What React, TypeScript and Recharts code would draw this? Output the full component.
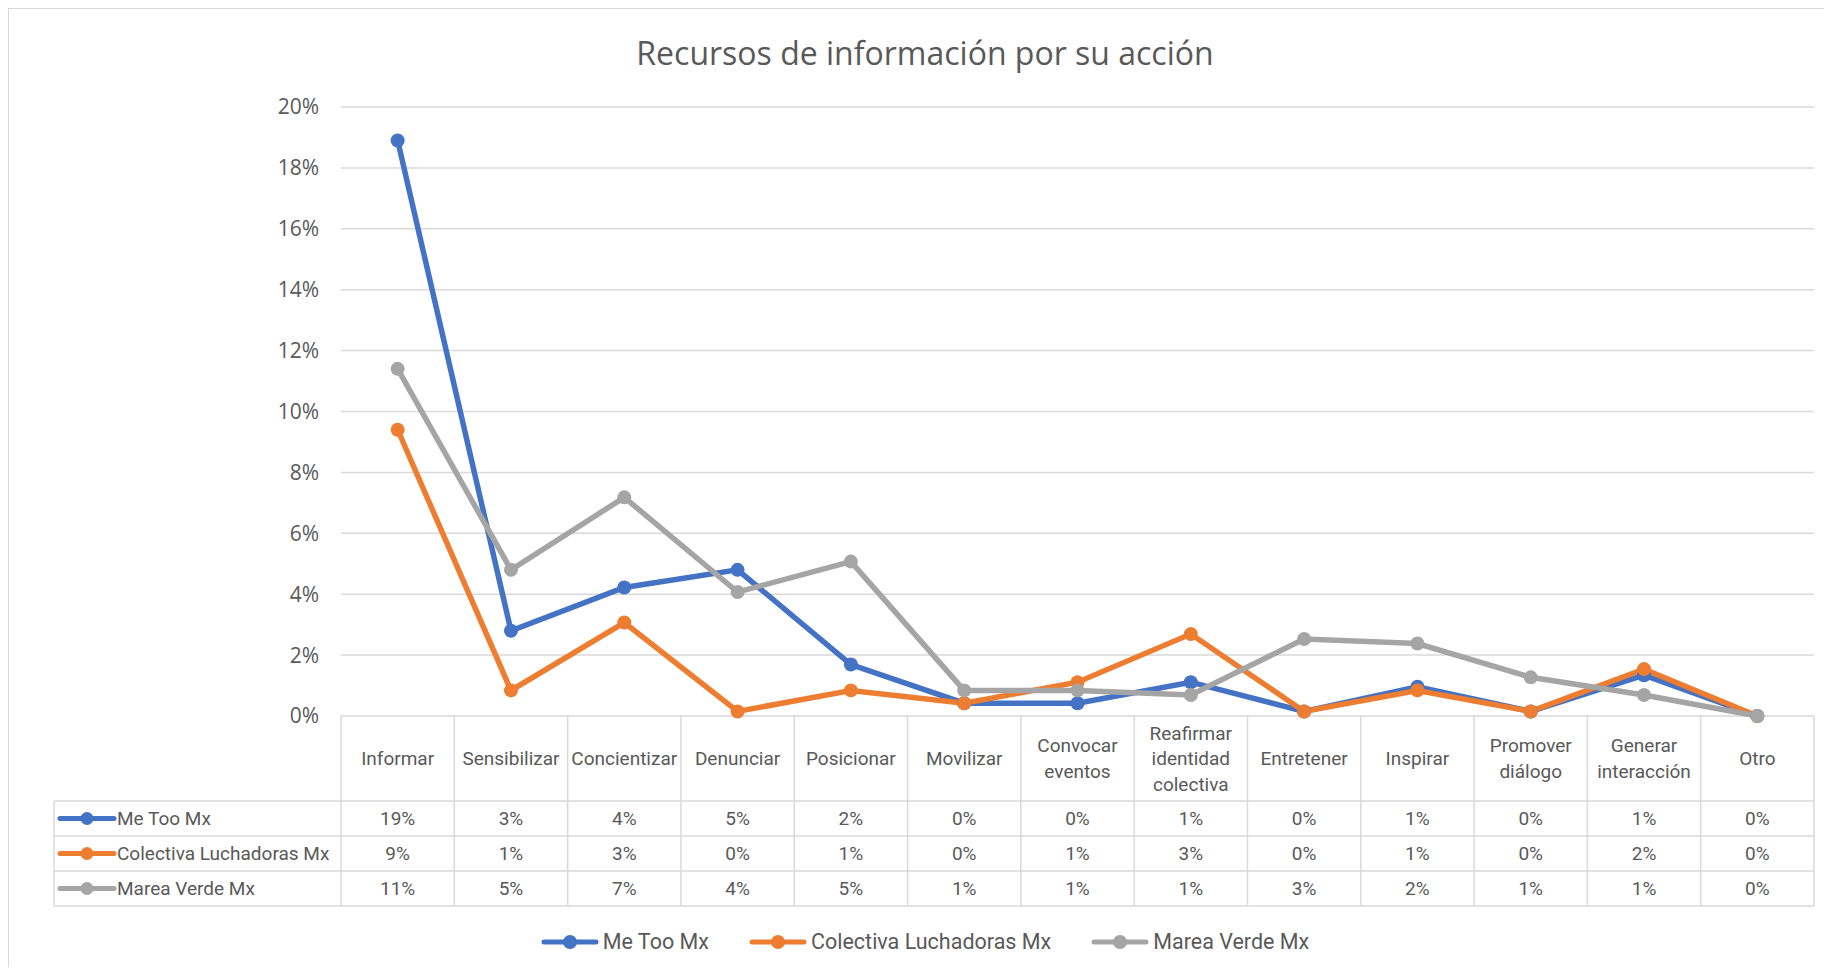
import React from "react";
import { LineChart, Line, XAxis, YAxis, CartesianGrid } from "recharts";

const categories = [
  "Informar",
  "Sensibilizar",
  "Concientizar",
  "Denunciar",
  "Posicionar",
  "Movilizar",
  "Convocar eventos",
  "Reafirmar identidad colectiva",
  "Entretener",
  "Inspirar",
  "Promover diálogo",
  "Generar interacción",
  "Otro",
];

const meToo = [18.9, 2.8, 4.22, 4.8, 1.69, 0.42, 0.42, 1.11, 0.15, 0.96, 0.15, 1.34, 0];
const colectiva = [9.4, 0.84, 3.07, 0.15, 0.84, 0.42, 1.11, 2.69, 0.15, 0.84, 0.15, 1.54, 0];
const marea = [11.4, 4.8, 7.18, 4.07, 5.07, 0.84, 0.84, 0.69, 2.53, 2.38, 1.27, 0.69, 0];

const yTicks = [0, 2, 4, 6, 8, 10, 12, 14, 16, 18, 20];

const series = [
  { key: "meToo", name: "Me Too Mx", color: "#4472C4", values: meToo },
  { key: "colectiva", name: "Colectiva Luchadoras Mx", color: "#ED7D31", values: colectiva },
  { key: "marea", name: "Marea Verde Mx", color: "#A5A5A5", values: marea },
];

const data = categories.map((c, i) => ({
  name: c,
  meToo: meToo[i],
  colectiva: colectiva[i],
  marea: marea[i],
}));

// layout (svg coords)
const W = 1823;
const H = 958;
const PLOT_L = 332;
const PLOT_R = 1805;
const PLOT_T = 98;
const PLOT_B = 707;
const BAND = (PLOT_R - PLOT_L) / categories.length;
const HEAD_B = 792;
const ROW_H = 35;
const LEG_L = 45;
const GRID = "#d9d9d9";
const TXT = "#595959";
const FONT = "Roboto, sans-serif";
const FS = 19;

const TableTick = (props: any) => {
  const { x, index } = props;
  const left = x - BAND / 2;
  const right = x + BAND / 2;
  const lines = categories[index].split(" ");
  const midHead = (PLOT_B + HEAD_B) / 2;
  const lh = 25.5;
  const rowYs = [HEAD_B, HEAD_B + ROW_H, HEAD_B + 2 * ROW_H, HEAD_B + 3 * ROW_H];
  return (
    <g>
      <line x1={left} x2={left} y1={PLOT_B} y2={rowYs[3]} stroke={GRID} strokeWidth={1.5} />
      {index === categories.length - 1 && (
        <line x1={right} x2={right} y1={PLOT_B} y2={rowYs[3]} stroke={GRID} strokeWidth={1.5} />
      )}
      {rowYs.map((y) => (
        <line key={y} x1={left} x2={right} y1={y} y2={y} stroke={GRID} strokeWidth={1.5} />
      ))}
      {lines.map((l, k) => (
        <text
          key={k}
          x={x}
          y={midHead + (k - (lines.length - 1) / 2) * lh}
          textAnchor="middle"
          dominantBaseline="central"
          fontFamily={FONT}
          fontSize={FS}
          fill={TXT}
        >
          {l}
        </text>
      ))}
      {series.map((s, r) => (
        <text
          key={s.key}
          x={x}
          y={HEAD_B + ROW_H * r + ROW_H / 2}
          textAnchor="middle"
          dominantBaseline="central"
          fontFamily={FONT}
          fontSize={FS}
          fill={TXT}
        >
          {Math.round(s.values[index]) + "%"}
        </text>
      ))}
      {index === 0 && (
        <g>
          <line x1={LEG_L} x2={LEG_L} y1={HEAD_B} y2={rowYs[3]} stroke={GRID} strokeWidth={1.5} />
          {rowYs.map((y) => (
            <line key={y} x1={LEG_L} x2={left} y1={y} y2={y} stroke={GRID} strokeWidth={1.5} />
          ))}
          {series.map((s, r) => {
            const cy = HEAD_B + ROW_H * r + ROW_H / 2;
            return (
              <g key={s.key}>
                <line x1={LEG_L + 6} x2={LEG_L + 60} y1={cy} y2={cy} stroke={s.color} strokeWidth={5} strokeLinecap="round" />
                <circle cx={LEG_L + 33} cy={cy} r={6.5} fill={s.color} />
                <text x={LEG_L + 63} y={cy} dominantBaseline="central" fontFamily={FONT} fontSize={FS} fill={TXT}>
                  {s.name}
                </text>
              </g>
            );
          })}
        </g>
      )}
    </g>
  );
};

export default function App() {
  return (
    <div
      style={{
        position: "relative",
        width: W,
        height: H,
        borderTop: `1px solid ${GRID}`,
        borderLeft: `1px solid ${GRID}`,
        overflow: "hidden",
        background: "#fff",
      }}
    >
      <div
        style={{
          position: "absolute",
          left: 0,
          width: 1832,
          top: 25,
          textAlign: "center",
          fontFamily: "'Open Sans', sans-serif",
          fontSize: 32,
          lineHeight: "38px",
          color: TXT,
        }}
      >
        Recursos de información por su acción
      </div>
      <LineChart
        width={W}
        height={H}
        data={data}
        margin={{ top: PLOT_T, right: W - PLOT_R, left: PLOT_L - 80, bottom: H - PLOT_B - 85 }}
      >
        <CartesianGrid vertical={false} stroke={GRID} strokeWidth={1.5} />
        <XAxis
          dataKey="name"
          height={85}
          interval={0}
          padding={{ left: BAND / 2, right: BAND / 2 }}
          axisLine={false}
          tickLine={false}
          tick={<TableTick />}
        />
        <YAxis
          width={80}
          domain={[0, 20]}
          ticks={yTicks}
          tickFormatter={(v: number) => `${v}%`}
          axisLine={false}
          tickLine={false}
          tickSize={0}
          tickMargin={22}
          tick={{ fill: TXT, fontSize: 21, fontFamily: "'Open Sans', sans-serif" }}
        />
        {series.map((s) => (
          <Line
            key={s.key}
            dataKey={s.key}
            name={s.name}
            stroke={s.color}
            strokeWidth={5.5}
            dot={{ r: 7, fill: s.color, stroke: s.color, strokeWidth: 0 }}
            activeDot={false}
            isAnimationActive={false}
          />
        ))}
      </LineChart>
      <div
        style={{
          position: "absolute",
          left: 0,
          width: 1832,
          top: 920,
          display: "flex",
          justifyContent: "center",
          gap: 40,
          fontFamily: FONT,
          fontSize: 21.5,
          color: TXT,
        }}
      >
        {series.map((s) => (
          <div key={s.key} style={{ display: "flex", alignItems: "center" }}>
            <svg width={58} height={18} style={{ marginRight: 4 }}>
              <line x1={3} x2={55} y1={9} y2={9} stroke={s.color} strokeWidth={5} strokeLinecap="round" />
              <circle cx={29} cy={9} r={7} fill={s.color} />
            </svg>
            <span>{s.name}</span>
          </div>
        ))}
      </div>
    </div>
  );
}
